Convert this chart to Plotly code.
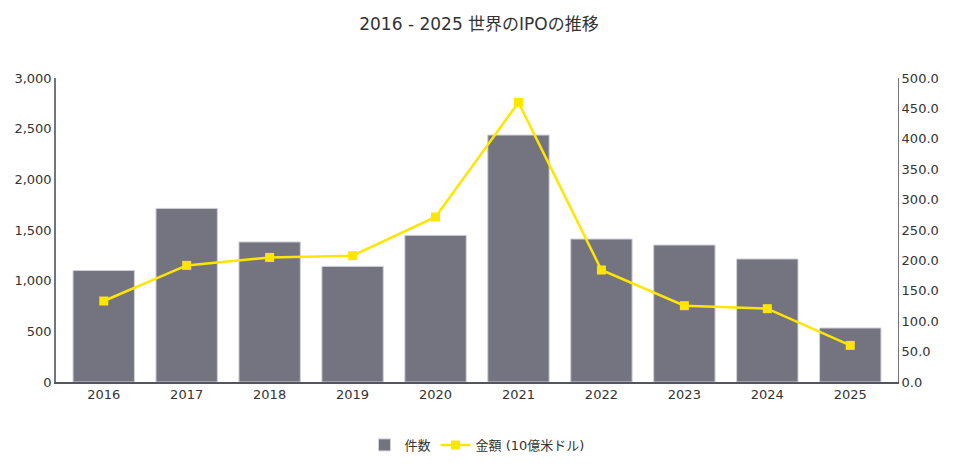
import plotly.graph_objects as go

years = ["2016", "2017", "2018", "2019", "2020", "2021", "2022", "2023", "2024", "2025"]
counts = [1100, 1713, 1382, 1141, 1447, 2437, 1411, 1352, 1214, 533]
amounts = [133.2, 191.8, 204.9, 207.7, 271.4, 459.9, 184.2, 125.5, 120.6, 60.2]
left_ticks = [0, 500, 1000, 1500, 2000, 2500, 3000]
right_ticks = [0, 50, 100, 150, 200, 250, 300, 350, 400, 450, 500]

FONT = "DejaVu Sans, Verdana, Noto Sans CJK JP, sans-serif"

fig = go.Figure()
fig.add_trace(go.Bar(
    x=years, y=counts, name="件数",
    marker=dict(color="#747480", line=dict(color="#d0d0d8", width=1)),
    yaxis="y",
))
fig.add_trace(go.Scatter(
    x=years, y=amounts, name="金額 (10億米ドル)",
    mode="lines+markers",
    line=dict(color="#FFE600", width=2.5),
    marker=dict(symbol="square", size=9, color="#FFE600"),
    yaxis="y2",
))

fig.update_layout(
    width=942, height=450,
    margin=dict(l=48, r=52, t=70, b=76, autoexpand=False),
    paper_bgcolor="white", plot_bgcolor="white",
    font=dict(family=FONT, size=13, color="#333333"),
    title=dict(text="2016 - 2025 世界のIPOの推移", x=0.5, xanchor="center",
               y=0.9644, yanchor="middle",
               font=dict(family=FONT, size=17, color="#333333")),
    bargap=0.26,
    showlegend=True,
    legend=dict(orientation="h", x=0.5, xanchor="center", y=-0.207, yanchor="middle",
                font=dict(family=FONT, size=13, color="#333333"), traceorder="normal"),
    xaxis=dict(showgrid=False, showline=True, linecolor="#555560", linewidth=1.5,
               ticks="", tickfont=dict(size=13, color="#333333"), automargin=False),
    yaxis=dict(range=[0, 3000], tickvals=left_ticks,
               ticktext=[f"{v:,}" for v in left_ticks],
               showgrid=False, showline=True, linecolor="#747480", linewidth=1.5,
               ticks="", zeroline=False, tickfont=dict(size=13, color="#333333"),
               automargin=False),
    yaxis2=dict(range=[0, 500], tickvals=right_ticks,
                ticktext=[f"{v:.1f}" for v in right_ticks],
                overlaying="y", side="right",
                showgrid=False, showline=True, linecolor="#747480", linewidth=1,
                ticks="", zeroline=False, tickfont=dict(size=13, color="#333333"),
                automargin=False),
)

fig.write_html("out.html")
